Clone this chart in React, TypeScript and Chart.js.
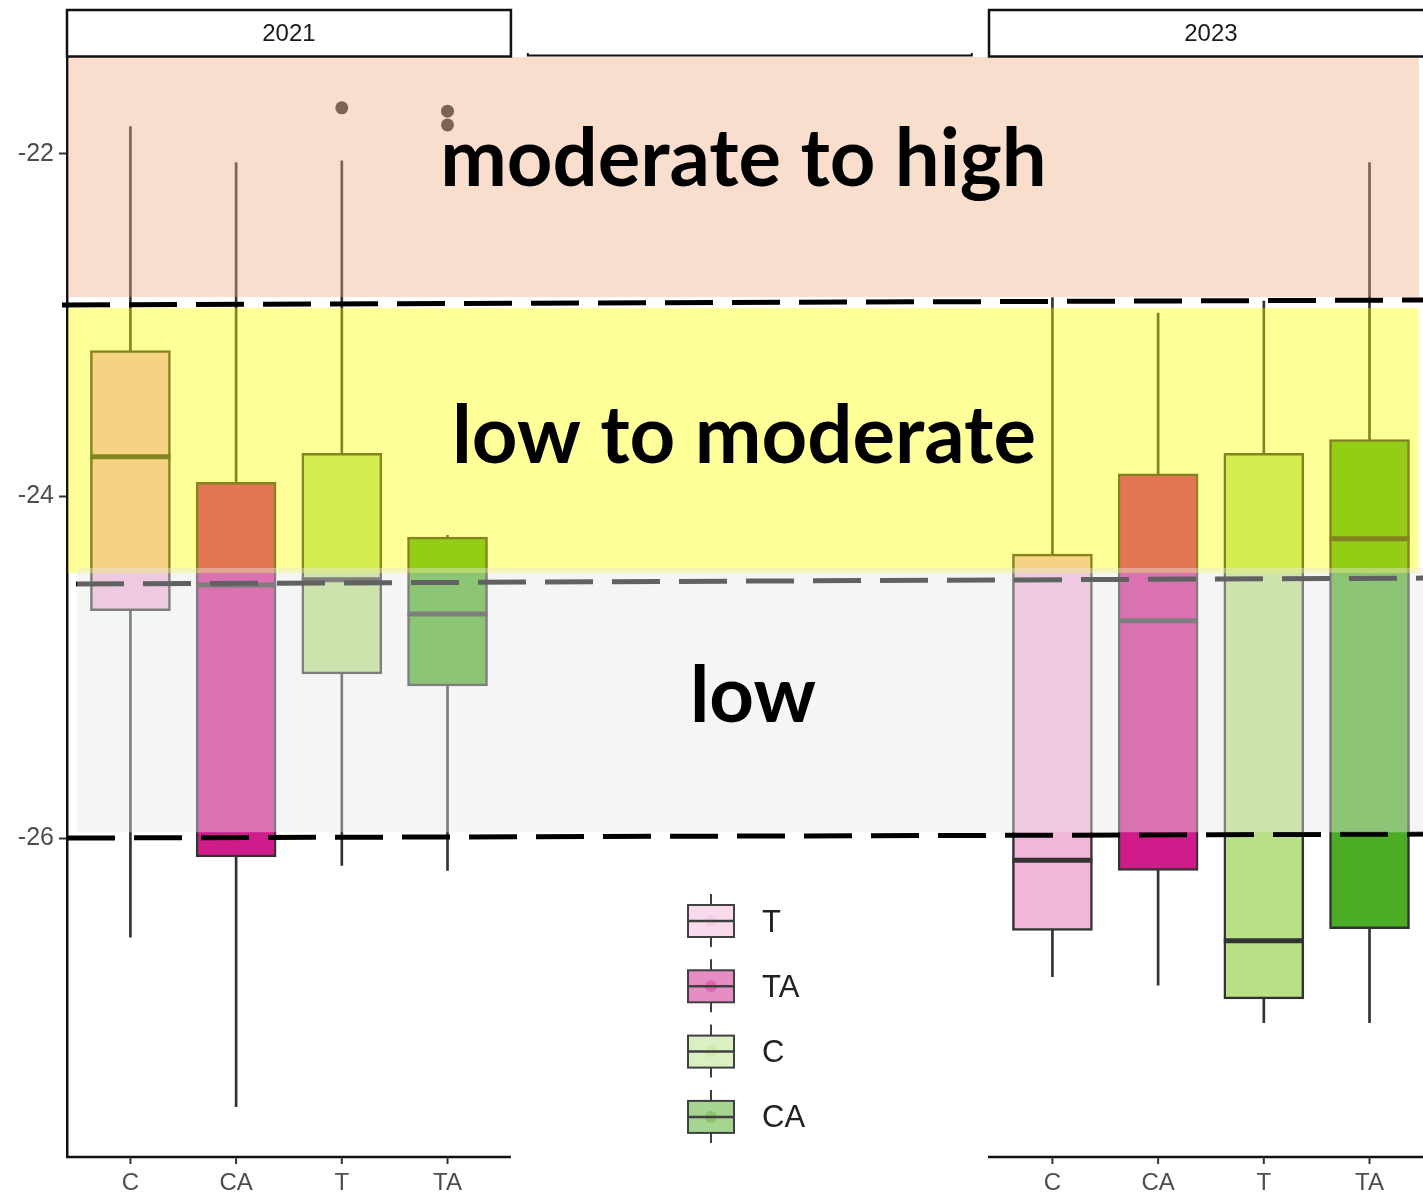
import React, { useEffect, useRef } from 'react';
import { Chart, registerables } from 'chart.js';

Chart.register(...registerables);

// Treatments and their fills
const treatments = ['C', 'CA', 'T', 'TA'];
const treatmentColors = ['#F1B6DA', '#D01C8B', '#B8E186', '#4DAC26'];
const years = ['2021', '2023'];

// 2021 box statistics (one entry per treatment)
const lower2021 = [-26.58, -27.57, -26.16, -26.19];
const q1_2021 = [-24.67, -26.11, -25.04, -25.11];
const median2021 = [-23.77, -24.52, -24.49, -24.69];
const q3_2021 = [-23.15, -23.92, -23.75, -24.24];
const upper2021 = [-21.84, -22.05, -22.04, -24.23];
const outlierGroup2021 = ['T', 'TA', 'TA'];
const outlierValue2021 = [-21.73, -21.75, -21.83];

// 2023 box statistics
const lower2023 = [-26.81, -26.86, -27.08, -27.08];
const q1_2023 = [-26.54, -26.19, -26.94, -26.53];
const median2023 = [-26.13, -24.73, -26.6, -24.25];
const q3_2023 = [-24.34, -23.87, -23.75, -23.67];
const upper2023 = [-22.84, -22.93, -22.86, -22.05];

const yTicks = [-26, -24, -22];

// Risk bands
const bandNames = ['moderate to high', 'low to moderate', 'low'];
const bandTop = [-21.433, -22.901, -24.421];
const bandBottom = [-22.836, -24.45, -25.966];
const bandStartX = [0.41, 0.41, 0.495];
const bandEndX = [13.19, 13.19, 13.229];
const bandColors = ['rgba(240,170,130,0.4)', 'rgba(255,255,0,0.4)', 'rgba(232,232,232,0.42)'];
const bandLabelX = [6.8, 6.805, 6.89];
const bandLabelBaseline = [-22.187, -23.807, -25.322];
const bandLabelWidth = [607, 584, 126];

// Dashed threshold lines
const thresholdStartX = [0.353, 0.485, 0.4];
const thresholdEndX = [13.229, 13.229, 13.229];
const thresholdStartY = [-22.883, -24.515, -26.0];
const thresholdEndY = [-22.854, -24.48, -25.977];

// Legend
const legendLabels = ['T', 'TA', 'C', 'CA'];

// Facet layout in x units: each panel spans [start, start + 4.2]
const panelStart = [0.4, 9.123];
const X_MIN = 0.4;
const X_MAX = 13.229;
const Y_MIN = -27.865;
const Y_MAX = -21.433;

const lowers = [lower2021, lower2023];
const q1s = [q1_2021, q1_2023];
const medians = [median2021, median2023];
const q3s = [q3_2021, q3_2023];
const uppers = [upper2021, upper2023];

const catX = (panel: number, i: number) => panelStart[panel] + 0.6 + i;

function buildDatasets() {
  const whiskers: any[] = [];
  const boxes: any[] = [];
  const boxColors: string[] = [];
  const meds: any[] = [];
  years.forEach((_, p) => {
    treatments.forEach((_, i) => {
      const x = catX(p, i);
      whiskers.push({ x, y: [lowers[p][i], uppers[p][i]] });
      boxes.push({ x, y: [q1s[p][i], q3s[p][i]] });
      boxColors.push(treatmentColors[i]);
      meds.push({ x, y: medians[p][i] });
    });
  });
  const outliers = outlierGroup2021.map((g, k) => ({
    x: catX(0, treatments.indexOf(g)),
    y: outlierValue2021[k],
  }));
  return [
    {
      type: 'bar',
      data: whiskers,
      backgroundColor: '#333333',
      borderWidth: 0,
      barThickness: 2,
      grouped: false,
      order: 3,
    },
    {
      type: 'bar',
      data: boxes,
      backgroundColor: boxColors,
      borderColor: '#333333',
      borderWidth: 2.5,
      borderSkipped: false,
      barThickness: 80,
      grouped: false,
      order: 2,
    },
    {
      type: 'scatter',
      data: meds,
      pointStyle: 'line',
      pointRadius: 40,
      pointBorderWidth: 5,
      pointBorderColor: '#333333',
      order: 1,
    },
    {
      type: 'scatter',
      data: outliers,
      pointRadius: 6.5,
      pointBackgroundColor: '#333333',
      pointBorderWidth: 0,
      order: 1,
    },
  ];
}

const AXIS_FONT = '"Liberation Sans", Arial, sans-serif';

const decorations = {
  id: 'decorations',
  afterDatasetsDraw(chart: any) {
    const { ctx } = chart;
    const xs = chart.scales.x;
    const ys = chart.scales.y;
    const px = (v: number) => xs.getPixelForValue(v);
    const py = (v: number) => ys.getPixelForValue(v);
    const area = chart.chartArea;

    ctx.save();

    // threshold lines
    ctx.strokeStyle = '#000';
    ctx.lineWidth = 5;
    ctx.setLineDash([48, 19]);
    thresholdStartX.forEach((sx, i) => {
      ctx.beginPath();
      ctx.moveTo(px(sx), py(thresholdStartY[i]));
      ctx.lineTo(px(thresholdEndX[i]), py(thresholdEndY[i]));
      ctx.stroke();
    });
    ctx.setLineDash([]);

    // translucent bands
    bandNames.forEach((_, i) => {
      const x0 = px(bandStartX[i]);
      const x1 = px(bandEndX[i]);
      const y0 = py(bandTop[i]);
      const y1 = py(bandBottom[i]);
      ctx.fillStyle = bandColors[i];
      ctx.fillRect(x0, y0, x1 - x0, y1 - y0);
    });

    // band labels
    ctx.fillStyle = '#000';
    ctx.textAlign = 'center';
    ctx.textBaseline = 'alphabetic';
    bandNames.forEach((name, i) => {
      ctx.font = 'bold 100px Lato, "Open Sans", sans-serif';
      const w = ctx.measureText(name).width;
      const size = (100 * bandLabelWidth[i]) / w;
      ctx.font = `bold ${size.toFixed(1)}px Lato, "Open Sans", sans-serif`;
      ctx.fillText(name, px(bandLabelX[i]), py(bandLabelBaseline[i]));
    });

    // facet strips
    ctx.lineWidth = 2.5;
    ctx.strokeStyle = '#111';
    ctx.font = `24px ${AXIS_FONT}`;
    ctx.textBaseline = 'middle';
    years.forEach((yr, p) => {
      const x0 = px(panelStart[p]);
      const x1 = px(panelStart[p] + 4.2);
      ctx.fillStyle = '#fff';
      ctx.fillRect(x0, 10, x1 - x0, 46.5);
      ctx.strokeRect(x0, 10, x1 - x0, 46.5);
      ctx.fillStyle = '#1a1a1a';
      ctx.fillText(yr, (x0 + x1) / 2, 34);
    });
    // edge of the hidden middle strip
    ctx.lineWidth = 2;
    ctx.beginPath();
    ctx.moveTo(px(4.76), 53);
    ctx.lineTo(px(4.76), 55.5);
    ctx.lineTo(px(8.96), 55.5);
    ctx.lineTo(px(8.96), 53);
    ctx.stroke();

    // x axes per panel
    const base = area.bottom;
    ctx.font = `24px ${AXIS_FONT}`;
    ctx.textBaseline = 'alphabetic';
    years.forEach((_, p) => {
      const x0 = px(panelStart[p]) - 1;
      const x1 = px(panelStart[p] + 4.2);
      ctx.strokeStyle = '#111';
      ctx.lineWidth = 2.5;
      ctx.beginPath();
      ctx.moveTo(x0, base);
      ctx.lineTo(x1, base);
      ctx.stroke();
      treatments.forEach((t, i) => {
        const cx = px(catX(p, i));
        ctx.strokeStyle = '#333';
        ctx.lineWidth = 2;
        ctx.beginPath();
        ctx.moveTo(cx, base);
        ctx.lineTo(cx, base + 7);
        ctx.stroke();
        ctx.fillStyle = '#4d4d4d';
        ctx.fillText(t, cx, base + 33);
      });
    });

    // legend
    const lx = 711;
    const ly0 = 921;
    const lstep = 65.3;
    ctx.textAlign = 'left';
    ctx.textBaseline = 'middle';
    legendLabels.forEach((lab, i) => {
      const cy = ly0 + i * lstep;
      ctx.strokeStyle = '#404040';
      ctx.lineWidth = 2;
      ctx.beginPath();
      ctx.moveTo(lx, cy - 27);
      ctx.lineTo(lx, cy + 26);
      ctx.stroke();
      ctx.fillStyle = '#fff';
      ctx.fillRect(lx - 23, cy - 16, 46, 32);
      ctx.globalAlpha = 0.5;
      ctx.fillStyle = treatmentColors[i];
      ctx.fillRect(lx - 23, cy - 16, 46, 32);
      ctx.globalAlpha = 0.35;
      ctx.beginPath();
      ctx.arc(lx, cy, 6, 0, Math.PI * 2);
      ctx.fill();
      ctx.globalAlpha = 1;
      ctx.strokeRect(lx - 23, cy - 16, 46, 32);
      ctx.lineWidth = 2.5;
      ctx.beginPath();
      ctx.moveTo(lx - 23, cy);
      ctx.lineTo(lx + 23, cy);
      ctx.stroke();
      ctx.fillStyle = '#222';
      ctx.font = `31px ${AXIS_FONT}`;
      ctx.fillText(lab, 762, cy + 2);
    });

    ctx.restore();
  },
};

export default function App() {
  const canvasRef = useRef<HTMLCanvasElement | null>(null);

  useEffect(() => {
    const canvas = canvasRef.current;
    if (!canvas) return;
    const chart = new Chart(canvas, {
      type: 'bar',
      data: { datasets: buildDatasets() as any },
      options: {
        responsive: false,
        animation: false,
        devicePixelRatio: 1,
        events: [],
        layout: { autoPadding: false, padding: { top: 57, bottom: 36, left: 0, right: 0 } },
        plugins: { legend: { display: false }, tooltip: { enabled: false } },
        scales: {
          x: {
            type: 'linear',
            min: X_MIN,
            max: X_MAX,
            offset: false,
            display: false,
            grid: { offset: false },
            afterFit: (s: any) => {
              s.height = 0;
            },
          },
          y: {
            type: 'linear',
            min: Y_MIN,
            max: Y_MAX,
            afterBuildTicks: (s: any) => {
              s.ticks = yTicks.map((v) => ({ value: v }));
            },
            afterFit: (s: any) => {
              s.width = 67;
              s.paddingTop = 0;
              s.paddingBottom = 0;
            },
            grid: {
              drawOnChartArea: false,
              drawTicks: true,
              tickLength: 8,
              tickWidth: 2,
              tickColor: '#333',
            },
            border: { display: true, color: '#111', width: 2.5 },
            ticks: {
              color: '#4d4d4d',
              padding: 5,
              font: { family: AXIS_FONT, size: 25 },
              callback: (v: any) => String(v),
            },
          },
        },
      },
      plugins: [decorations],
    });
    return () => chart.destroy();
  }, []);

  return (
    <div style={{ position: 'absolute', left: 0, top: 0, width: 1423, height: 1193, background: '#fff' }}>
      <canvas ref={canvasRef} width={1423} height={1193} style={{ display: 'block' }} />
    </div>
  );
}
